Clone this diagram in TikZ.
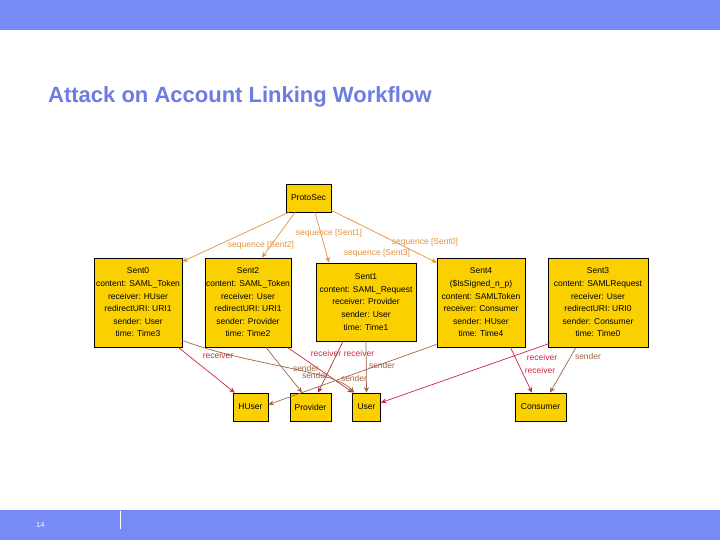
\documentclass[tikz,border=0pt]{standalone}
\usepackage{fontspec}
\setmainfont{Liberation Sans}
\usetikzlibrary{arrows.meta}
\definecolor{band}{RGB}{120,138,248}
\definecolor{titleblue}{RGB}{108,124,226}
\definecolor{gold}{RGB}{250,208,0}
\definecolor{seqc}{RGB}{226,146,62}
\definecolor{sndc}{RGB}{160,100,70}
\definecolor{rcvc}{RGB}{200,40,62}
\tikzset{
  box/.style={draw=black, line width=0.8pt, fill=gold, inner sep=0pt, align=center,
    font=\fontsize{8.5}{12.6}\selectfont},
  seqedge/.style={draw=seqc, line width=0.7pt, -{Stealth[length=5.5pt,width=5pt]}},
  sndedge/.style={draw=sndc, line width=0.7pt, -{Stealth[length=5.5pt,width=5pt]}},
  rcvedge/.style={draw=rcvc, line width=0.7pt, -{Stealth[length=5.5pt,width=5pt]}},
  lbl/.style={inner sep=0pt, font=\fontsize{8.5}{10}\selectfont},
}
\begin{document}
\begin{tikzpicture}[x=1pt,y=-1pt]
\useasboundingbox (0,0) rectangle (720,540);
% bands
\fill[band] (0,0) rectangle (720,30);
\fill[band] (0,510) rectangle (720,540);
\draw[white, line width=0.8pt] (120,511) -- (120,529);
\node[text=white, font=\fontsize{7.5}{8}\selectfont, anchor=west, inner sep=0pt] (pg) at (36,525) {14};
\node[text=titleblue, font=\fontsize{22}{26}\selectfont\bfseries, anchor=base west, inner sep=0pt] (title) at (48,103) {Attack on Account Linking Workflow};

% nodes
\node[box, minimum width=45, minimum height=28] (ps) at (308.5,198) {ProtoSec};
\node[box, minimum width=88, minimum height=89] (s0) at (138,302.5)
  {Sent0\\content: SAML\_Token\\receiver: HUser\\redirectURI: URI1\\sender: User\\time: Time3};
\node[box, minimum width=86, minimum height=89] (s2) at (248,302.5)
  {Sent2\\content: SAML\_Token\\receiver: User\\redirectURI: URI1\\sender: Provider\\time: Time2};
\node[box, minimum width=100, minimum height=78] (s1) at (366,302)
  {Sent1\\content: SAML\_Request\\receiver: Provider\\sender: User\\time: Time1};
\node[box, minimum width=88, minimum height=89] (s4) at (481,302.5)
  {Sent4\\(\$IsSigned\_n\_p)\\content: SAMLToken\\receiver: Consumer\\sender: HUser\\time: Time4};
\node[box, minimum width=100, minimum height=89] (s3) at (598,302.5)
  {Sent3\\content: SAMLRequest\\receiver: User\\redirectURI: URI0\\sender: Consumer\\time: Time0};
\node[box, minimum width=35, minimum height=28] (hu) at (250.5,407) {HUser};
\node[box, minimum width=41, minimum height=28] (pr) at (310.5,407) {Provider};
\node[box, minimum width=28, minimum height=28] (us) at (366.5,407) {User};
\node[box, minimum width=51, minimum height=28] (co) at (540.5,407) {Consumer};

% sequence edges
\draw[seqedge] ([xshift=3pt]ps.south west) -- ([yshift=-4pt]s0.north east);
\draw[seqedge] ([xshift=-13.5pt]ps.south) -- ([xshift=14pt]s2.north);
\draw[seqedge] ([xshift=6.5pt]ps.south) -- ([xshift=-37pt]s1.north);
\draw[seqedge] ([yshift=2pt]ps.south east) -- ([yshift=-5pt]s4.north west);
\node[lbl, text=seqc] (l1) at (261,245) {sequence [Sent2]};
\node[lbl, text=seqc] (l2) at (329,233) {sequence [Sent1]};
\node[lbl, text=seqc] (l3) at (377,253) {sequence [Sent3]};
\node[lbl, text=seqc] (l4) at (425,242) {sequence [Sent0]};

% receiver edges
\draw[rcvedge] ([xshift=-4pt]s0.south east) -- ([xshift=2pt]hu.north west);
\draw[rcvedge] ([xshift=-4pt]s2.south east) -- ([xshift=1pt]us.north west);
\draw[rcvedge] ([xshift=-23pt]s1.south) -- ([xshift=7.5pt]pr.north);
\draw[rcvedge] ([xshift=-15pt]s4.south east) -- ([xshift=-8.5pt]co.north);
\draw[rcvedge] ([xshift=2pt,yshift=4pt]s3.south west) -- ([yshift=-10pt]us.north east);
\node[lbl, text=rcvc] (r1) at (218,355) {receiver};
\node[lbl, text=rcvc] (r2) at (326,353) {receiver};
\node[lbl, text=rcvc] (r3) at (359,353) {receiver};
\node[lbl, text=rcvc] (r4) at (542,357) {receiver};
\node[lbl, text=rcvc] (r5) at (540,370) {receiver};

% sender edges
\draw[sndedge] ([yshift=7pt]s0.south east) .. controls (250,366) and (335,370) .. ([xshift=2pt]us.north west);
\draw[sndedge] ([xshift=18pt]s2.south) -- ([xshift=-8.5pt]pr.north);
\draw[sndedge] (s1.south) -- (us.north);
\draw[sndedge] ([yshift=3pt]s4.south west) -- ([yshift=-12pt]hu.north east);
\draw[sndedge] ([xshift=-22pt]s3.south) -- ([xshift=9.5pt]co.north);
\node[lbl, text=sndc] (d1) at (306,368) {sender};
\node[lbl, text=sndc] (d2) at (315,375) {sender};
\node[lbl, text=sndc] (d3) at (382,365) {sender};
\node[lbl, text=sndc] (d4) at (354,378) {sender};
\node[lbl, text=sndc] (d5) at (588,356) {sender};
\end{tikzpicture}
\end{document}
